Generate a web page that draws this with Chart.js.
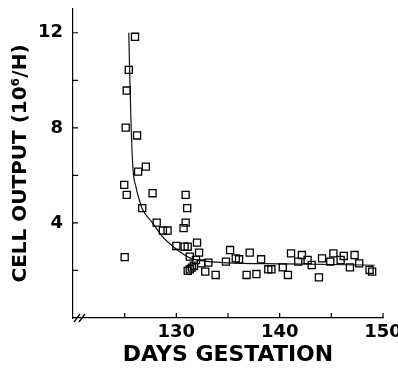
<!DOCTYPE html>
<html>
<head>
<meta charset="utf-8">
<script src="https://cdn.jsdelivr.net/npm/chart.js@4.4.1/dist/chart.umd.min.js"></script>
<style>
  html, body { margin: 0; padding: 0; background: #ffffff; }
  #wrap { width: 398px; height: 370px; }
</style>
</head>
<body>
<div id="wrap"><canvas id="c" width="398" height="370"></canvas></div>
<script>
// ---- data ----
const gestationDays = [
  125.0, 124.96, 125.2, 125.1, 125.2, 125.4, 126.0, 126.2, 126.3, 127.05,
  126.7, 127.7, 128.1, 128.7, 129.15, 130.0, 130.9, 131.05, 130.9, 130.7,
  130.8, 131.1, 132.0, 131.3, 132.2, 131.9, 132.4, 133.1, 131.1, 131.3,
  131.5, 131.7, 132.8, 133.8, 134.8, 135.2, 135.75, 136.07, 136.8, 137.1,
  137.75, 138.2, 138.9, 139.2, 140.3, 140.8, 141.1, 141.8, 142.15, 142.7,
  143.1, 143.8, 144.1, 144.9, 145.2, 145.9, 146.2, 146.8, 147.25, 147.7,
  148.7, 148.95
];
const cellOutput = [
  2.56, 5.6, 5.18, 8.01, 9.57, 10.44, 11.83, 7.68, 6.16, 6.37,
  4.62, 5.25, 4.01, 3.68, 3.68, 3.03, 5.18, 4.62, 4.01, 3.78,
  3.0, 3.0, 3.17, 2.58, 2.75, 2.44, 2.3, 2.33, 1.98, 2.05,
  2.12, 2.2, 1.95, 1.81, 2.37, 2.86, 2.51, 2.47, 1.81, 2.75,
  1.85, 2.47, 2.05, 2.05, 2.13, 1.81, 2.72, 2.37, 2.65, 2.44,
  2.23, 1.71, 2.51, 2.37, 2.72, 2.44, 2.61, 2.13, 2.65, 2.3,
  2.02, 1.95
];
const fitDays   = [125.4, 125.5, 125.63, 125.8, 126.1, 126.4, 126.7, 127.7, 128.7, 129.5, 130.8, 131.5, 133.0, 135.0, 140.0, 145.0, 149.2];
const fitOutput = [12.0, 10.0, 8.0, 6.3, 5.5, 5.0, 4.6, 4.0, 3.4, 3.07, 2.65, 2.5, 2.38, 2.32, 2.28, 2.25, 2.22];
const xTickLabels = [130, 140, 150];
const yTickLabels = [4, 8, 12];
const xMinorTicks = [125, 130, 135, 140, 145, 150];
const yMinorTicks = [2, 4, 6, 8, 10, 12];

const points = gestationDays.map((d, i) => ({ x: d, y: cellOutput[i] }));
const fit = fitDays.map((d, i) => ({ x: d, y: fitOutput[i] }));

const FONT = "'DejaVu Sans', sans-serif";

const inwardTicks = {
  id: 'inwardTicks',
  afterDraw(chart) {
    const ctx = chart.ctx;
    const xs = chart.scales.x, ys = chart.scales.y;
    const area = chart.chartArea;
    ctx.save();
    ctx.strokeStyle = '#000';
    ctx.lineWidth = 1.2;
    ctx.beginPath();
    xMinorTicks.forEach(v => {
      const px = xs.getPixelForValue(v);
      ctx.moveTo(px, area.bottom);
      ctx.lineTo(px, area.bottom - 5);
    });
    yMinorTicks.forEach(v => {
      const py = ys.getPixelForValue(v);
      ctx.moveTo(area.left, py);
      ctx.lineTo(area.left + 5, py);
    });
    ctx.stroke();
    // axis break marks
    ctx.beginPath();
    ctx.lineWidth = 1.3;
    const bx = area.left + 4, by = area.bottom;
    ctx.moveTo(bx - 3, by + 4); ctx.lineTo(bx + 3, by - 4);
    ctx.moveTo(bx + 2, by + 4); ctx.lineTo(bx + 8, by - 4);
    ctx.stroke();
    ctx.restore();
  }
};

new Chart(document.getElementById('c'), {
  type: 'scatter',
  data: {
    datasets: [
      {
        type: 'line',
        data: fit,
        borderColor: '#111',
        borderWidth: 1.2,
        pointRadius: 0,
        cubicInterpolationMode: 'monotone',
        fill: false,
        order: 2
      },
      {
        type: 'scatter',
        data: points,
        pointStyle: 'rect',
        pointRadius: 5,
        borderColor: '#000',
        borderWidth: 1.3,
        backgroundColor: 'rgba(0,0,0,0)',
        order: 1
      }
    ]
  },
  options: {
    responsive: false,
    animation: false,
    devicePixelRatio: 1,
    layout: { padding: { left: 4, right: 15, top: 9, bottom: 4 } },
    plugins: { legend: { display: false }, tooltip: { enabled: false } },
    scales: {
      x: {
        type: 'linear',
        min: 120, max: 150,
        afterFit(s) { s.height = 48; s.paddingLeft = 0; s.paddingRight = 0; },
        afterBuildTicks(s) { s.ticks = xTickLabels.map(v => ({ value: v })); },
        grid: { display: false, drawTicks: false },
        border: { display: true, color: '#000', width: 1.2 },
        ticks: {
          color: '#000',
          padding: 4,
          maxRotation: 0,
          autoSkip: false,
          font: { family: FONT, size: 18, weight: 'bold' }
        },
        title: {
          display: true,
          text: 'DAYS GESTATION',
          color: '#000',
          padding: { top: 0, bottom: 0 },
          font: { family: FONT, size: 22, weight: 'bold', lineHeight: 1 }
        }
      },
      y: {
        type: 'linear',
        min: 0, max: 13,
        afterFit(s) { s.width = 69; s.paddingTop = 0; s.paddingBottom = 0; },
        afterBuildTicks(s) { s.ticks = yTickLabels.map(v => ({ value: v })); },
        grid: { display: false, drawTicks: false },
        border: { display: true, color: '#000', width: 1.2 },
        ticks: {
          color: '#000',
          padding: 10,
          autoSkip: false,
          font: { family: FONT, size: 18, weight: 'bold' }
        },
        title: {
          display: true,
          text: 'CELL OUTPUT (10\u2076/H)',
          color: '#000',
          padding: { top: 7, bottom: 0 },
          font: { family: FONT, size: 20, weight: 'bold', lineHeight: 1 }
        }
      }
    }
  },
  plugins: [inwardTicks]
});
</script>
</body>
</html>
